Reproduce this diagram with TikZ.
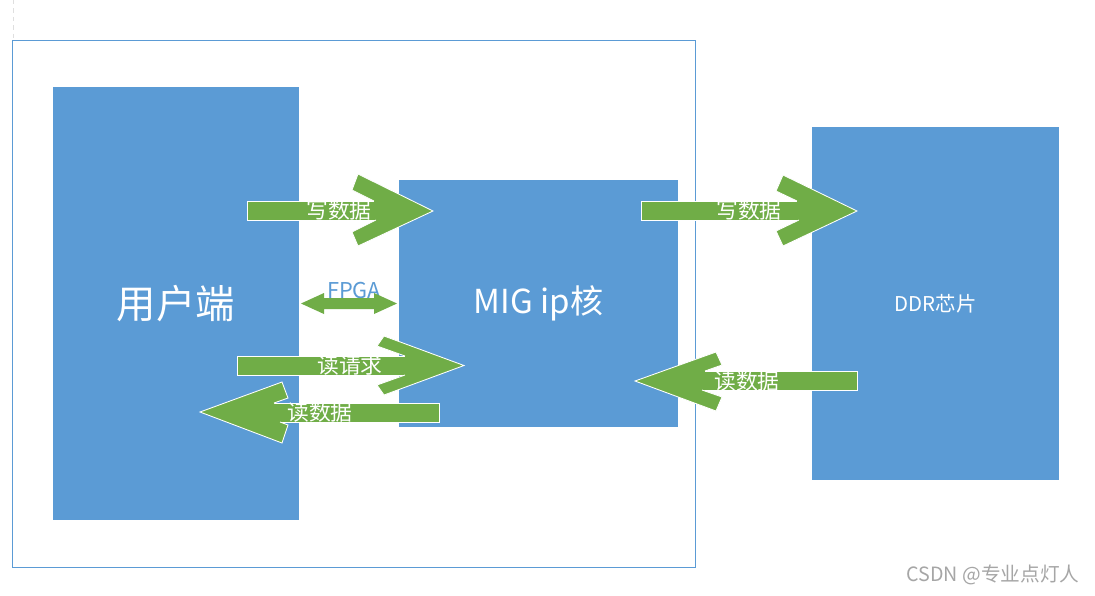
\documentclass[tikz,border=0pt]{standalone}
\usepackage{fontspec}
\setmainfont{Noto Sans CJK SC}
\definecolor{boxblue}{HTML}{5B9BD5}
\definecolor{arrgreen}{HTML}{70AD47}
\definecolor{wmgray}{HTML}{A6A6A6}
\begin{document}
\begin{tikzpicture}[x=0.025cm,y=-0.025cm,
  box/.style={fill=boxblue, draw=none, inner sep=0, text=white},
  frame/.style={draw=boxblue, line width=0.6pt, inner sep=0},
  shaft/.style={fill=arrgreen, draw=white, line width=0.6pt},
  headfill/.style={fill=arrgreen},
  headline/.style={draw=white, line width=0.6pt, line join=miter},
  lbl/.style={text=white, inner sep=0, font=\fontsize{15.5}{15.5}\selectfont}]
\useasboundingbox (0,0) rectangle (1095,595);
\fill[white] (0,0) rectangle (1095,595);
\draw[gray!25, dashed, line width=0.6pt] (13,0) -- (13,40);
% blocks
\node[frame, minimum width=17.05cm, minimum height=13.175cm] (fpga) at (354,303.5) {};
\node[box, minimum width=6.15cm, minimum height=10.825cm, font=\fontsize{28}{28}\selectfont] (user) at (176,303.5) {用户端};
\node[box, minimum width=6.975cm, minimum height=6.175cm, font=\fontsize{23.5}{23.5}\selectfont] (mig) at (538.5,303.5) {MIG ip核};
\node[box, minimum width=6.175cm, minimum height=8.825cm, font=\fontsize{14.5}{14.5}\selectfont] (ddr) at (935.5,303.5) {DDR芯片};
% FPGA label and double arrow
\node[inner sep=0, text=boxblue, font=\fontsize{15.5}{15.5}\selectfont] (fpgalbl) at (354,290) {FPGA};
\fill[arrgreen] (301,303.5) -- (324,293) -- (324,298) -- (374,298) -- (374,293) -- (397,303.5)
  -- (374,314) -- (374,309) -- (324,309) -- (324,314) -- cycle;
% arrow 1: user -> MIG write data
\draw[shaft] (247,201) rectangle (381,220);
\fill[headfill] (358,174) -- (433,211) -- (358,246) -- (352,232) -- (376,220) -- (374,201) -- (352,190) -- cycle;
\draw[headline] (374,201) -- (352,190) -- (358,174) -- (433,211) -- (358,246) -- (352,232) -- (376,220);
\node[lbl] (w1) at (339,210) {写数据};
% arrow 2: MIG -> DDR write data
\draw[shaft] (641,201) rectangle (803,220);
\fill[headfill] (783,175) -- (857,211) -- (783,246) -- (776,231) -- (799,220) -- (797,201) -- (776,191) -- cycle;
\draw[headline] (797,201) -- (776,191) -- (783,175) -- (857,211) -- (783,246) -- (776,231) -- (799,220);
\node[lbl] (w2) at (749,210) {写数据};
% arrow 3: DDR -> MIG read data
\draw[shaft] (697,371) rectangle (857,390);
\fill[headfill] (635,381) -- (716,352) -- (722,365) -- (705,371) -- (702,390) -- (722,397) -- (716,411) -- cycle;
\draw[headline] (705,371) -- (722,365) -- (716,352) -- (635,381) -- (716,411) -- (722,397) -- (702,390);
\node[lbl] (r2) at (747,381) {读数据};
% arrow 4: user -> MIG read request
\draw[shaft] (237,356) rectangle (411,375);
\fill[headfill] (384,336) -- (464,365.5) -- (384,395) -- (377,385) -- (405,375) -- (405,356) -- (377,346) -- cycle;
\draw[headline] (405,356) -- (377,346) -- (384,336) -- (464,365.5) -- (384,395) -- (377,385) -- (405,375);
\node[lbl] (rq) at (350,365) {读请求};
% arrow 5: MIG -> user read data
\draw[shaft] (268,403) rectangle (439,422);
\fill[headfill] (200,412) -- (282,382) -- (288,398) -- (274,403) -- (280,422) -- (288,425) -- (282,443) -- cycle;
\draw[headline] (274,403) -- (288,398) -- (282,382) -- (200,412) -- (282,443) -- (288,425) -- (280,422);
\node[lbl] (r1) at (320,412) {读数据};
% watermark
\node[inner sep=0, text=wmgray, font=\fontsize{14}{14}\selectfont] (wm) at (993,575) {CSDN @专业点灯人};
\end{tikzpicture}
\end{document}
